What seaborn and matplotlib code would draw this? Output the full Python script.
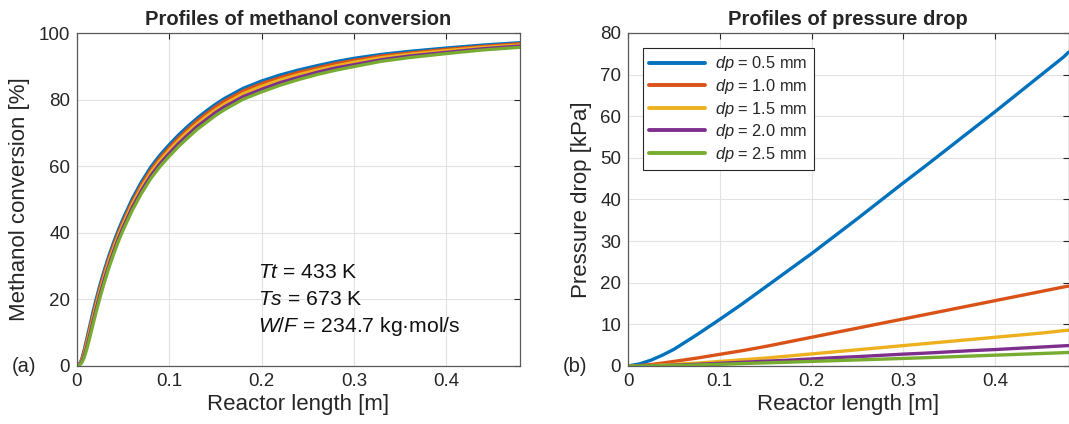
import numpy as np
import pandas as pd
import matplotlib
matplotlib.use("Agg")
import matplotlib.pyplot as plt
import seaborn as sns

# ---------------- data ----------------
dp_labels = ["0.5", "1.0", "1.5", "2.0", "2.5"]
colors = ["#0072BD", "#D95319", "#EDB120", "#7E2F8E", "#77AC30"]

# reactor length grid for conversion curves [m]
x_conv = [0, 0.0025, 0.005, 0.0075, 0.01, 0.0125, 0.015, 0.0175, 0.02, 0.025,
          0.03, 0.035, 0.04, 0.045, 0.05, 0.06, 0.07, 0.08, 0.09, 0.1,
          0.11, 0.12, 0.13, 0.14, 0.15, 0.16, 0.18, 0.2, 0.22, 0.24,
          0.26, 0.28, 0.3, 0.33, 0.36, 0.4, 0.44, 0.48]
conv_05 = [0, 0.5, 2.0, 4.5, 7.5, 10.5, 13.5, 16.5, 19.3, 24.5,
           29.2, 33.5, 37.4, 41.0, 44.3, 50.3, 55.4, 59.8, 63.4, 66.5,
           69.4, 72.0, 74.4, 76.6, 78.6, 80.4, 83.4, 85.6, 87.4, 88.9,
           90.2, 91.4, 92.4, 93.6, 94.5, 95.5, 96.4, 97.1]
conv_10 = [0, 0.4, 1.7, 4.0, 6.8, 9.6, 12.6, 15.5, 18.3, 23.5,
           28.3, 32.6, 36.5, 40.1, 43.4, 49.4, 54.5, 58.9, 62.5, 65.6,
           68.5, 71.1, 73.6, 75.7, 77.8, 79.6, 82.6, 84.8, 86.6, 88.2,
           89.5, 90.8, 91.8, 93.1, 94.0, 95.1, 96.0, 96.8]
conv_15 = [0, 0.35, 1.45, 3.4, 6.0, 8.8, 11.7, 14.6, 17.4, 22.6,
           27.3, 31.7, 35.6, 39.3, 42.6, 48.6, 53.7, 58.1, 61.7, 64.8,
           67.7, 70.3, 72.7, 74.9, 76.9, 78.7, 81.8, 84.0, 85.9, 87.5,
           88.9, 90.1, 91.2, 92.6, 93.6, 94.7, 95.7, 96.4]
conv_20 = [0, 0.3, 1.2, 2.9, 5.2, 7.9, 10.7, 13.6, 16.4, 21.6,
           26.4, 30.7, 34.7, 38.4, 41.7, 47.7, 52.8, 57.2, 60.8, 63.9,
           66.8, 69.4, 71.9, 74.0, 76.1, 77.9, 80.9, 83.1, 85.1, 86.7,
           88.2, 89.5, 90.5, 92.0, 93.1, 94.2, 95.3, 96.1]
conv_25 = [0, 0.2, 0.9, 2.3, 4.5, 7.0, 9.8, 12.6, 15.4, 20.6,
           25.4, 29.8, 33.8, 37.5, 40.8, 46.8, 51.9, 56.3, 59.9, 63.0,
           65.9, 68.5, 71.0, 73.1, 75.2, 77.0, 80.1, 82.3, 84.3, 86.0,
           87.5, 88.8, 89.9, 91.5, 92.6, 93.8, 94.9, 95.7]

# reactor length grid for pressure drop curves [m]
x_dp = [0, 0.0125, 0.025, 0.0375, 0.05, 0.075, 0.1, 0.125, 0.15, 0.175,
        0.2, 0.225, 0.25, 0.275, 0.3, 0.325, 0.35, 0.375, 0.4, 0.425,
        0.45, 0.475, 0.48]
dp_05 = [0, 0.5, 1.4, 2.6, 4.0, 7.5, 11.2, 15.0, 19.0, 23.0,
         27.0, 31.2, 35.4, 39.7, 44.0, 48.2, 52.5, 56.8, 61.1, 65.5,
         69.9, 74.3, 75.4]
dp_10 = [0, 0.1, 0.35, 0.7, 1.1, 1.9, 2.8, 3.7, 4.7, 5.8,
         6.9, 8.0, 9.1, 10.2, 11.3, 12.4, 13.5, 14.6, 15.7, 16.8,
         17.9, 19.0, 19.2]
dp_15 = [0, 0.03, 0.1, 0.25, 0.4, 0.7, 1.1, 1.5, 1.9, 2.4,
         2.9, 3.4, 3.9, 4.4, 4.9, 5.4, 5.9, 6.4, 6.9, 7.4,
         7.9, 8.5, 8.6]
dp_20 = [0, 0.02, 0.06, 0.12, 0.2, 0.4, 0.65, 0.9, 1.15, 1.4,
         1.7, 2.0, 2.25, 2.55, 2.85, 3.1, 3.4, 3.7, 3.95, 4.25,
         4.55, 4.85, 4.9]
dp_25 = [0, 0.01, 0.04, 0.08, 0.13, 0.25, 0.4, 0.58, 0.75, 0.92,
         1.1, 1.28, 1.46, 1.64, 1.82, 2.0, 2.2, 2.4, 2.6, 2.8,
         3.0, 3.2, 3.25]

conv_series = [conv_05, conv_10, conv_15, conv_20, conv_25]
dp_series = [dp_05, dp_10, dp_15, dp_20, dp_25]

names = [r"$\it{dp}$ = " + d + " mm" for d in dp_labels]

df_conv = pd.concat([pd.DataFrame({"x": x_conv, "y": s, "dp": n})
                     for s, n in zip(conv_series, names)], ignore_index=True)
df_dp = pd.concat([pd.DataFrame({"x": x_dp, "y": s, "dp": n})
                   for s, n in zip(dp_series, names)], ignore_index=True)

# ---------------- style ----------------
sns.set_style("white")
plt.rcParams["font.family"] = ["Liberation Sans", "DejaVu Sans"]
plt.rcParams["mathtext.fontset"] = "custom"
plt.rcParams["mathtext.rm"] = "Liberation Sans"
plt.rcParams["mathtext.it"] = "Liberation Sans:italic"
plt.rcParams["mathtext.bf"] = "Liberation Sans:bold"

W, H = 1069, 424
fig = plt.figure(figsize=(W / 100, H / 100), dpi=100)
axL = fig.add_axes([77 / W, 1 - 366 / H, (520 - 77) / W, (366 - 33) / H])
axR = fig.add_axes([628 / W, 1 - 366 / H, (1068.5 - 628) / W, (366 - 33) / H])

pal = dict(zip(names, colors))
sns.lineplot(data=df_conv, x="x", y="y", hue="dp", palette=pal, ax=axL,
             estimator=None, sort=False, linewidth=2.3, legend=False)
sns.lineplot(data=df_dp, x="x", y="y", hue="dp", palette=pal, ax=axR,
             estimator=None, sort=False, linewidth=2.4, legend=True)

tick_col = "#262626"
for ax in (axL, axR):
    ax.set_xlim(0, 0.48)
    ax.set_xticks([0, 0.1, 0.2, 0.3, 0.4])
    ax.set_xticklabels(["0", "0.1", "0.2", "0.3", "0.4"])
    ax.grid(True, color="#e2e2e2", linewidth=0.8)
    ax.set_axisbelow(True)
    ax.tick_params(direction="in", top=True, right=True, length=4, width=0.8,
                   colors=tick_col, labelsize=13.5, pad=5)
    for sp in ax.spines.values():
        sp.set_color("#5a5a5a")
        sp.set_linewidth(0.9)
    ax.set_xlabel("Reactor length [m]", fontsize=16, color=tick_col, labelpad=3)

axL.set_ylim(0, 100)
axL.set_yticks([0, 20, 40, 60, 80, 100])
axL.set_ylabel("Methanol conversion [%]", fontsize=16, color=tick_col, labelpad=6)
axL.set_title("Profiles of methanol conversion", fontsize=14.5, fontweight="bold",
              pad=6)

axR.set_ylim(0, 80)
axR.set_yticks(list(range(0, 81, 10)))
axR.set_ylabel("Pressure drop [kPa]", fontsize=16, color=tick_col, labelpad=6)
axR.set_title("Profiles of pressure drop", fontsize=14.5, fontweight="bold", pad=6)

# annotation
axL.text(0.196, 28.2, r"$\it{Tt}$ = 433 K", fontsize=15.2, va="center", color="#111111")
axL.text(0.196, 20.1, r"$\it{Ts}$ = 673 K", fontsize=15.2, va="center", color="#111111")
axL.text(0.196, 12.0, r"$\it{W/F}$ = 234.7 kg·mol/s", fontsize=15.2, va="center",
         color="#111111")

# legend
h, l = axR.get_legend_handles_labels()
leg = axR.legend(h, l, loc="upper left", fontsize=11.8, frameon=True,
                 fancybox=False, edgecolor="#262626", framealpha=1,
                 borderaxespad=0.9, handlelength=3.4, handletextpad=0.6,
                 labelspacing=0.22, borderpad=0.4)
leg.get_frame().set_linewidth(0.8)
for line in leg.get_lines():
    line.set_linewidth(2.8)

fig.text(24 / W, 1 - 367 / H, "(a)", fontsize=14.5, ha="center", va="center")
fig.text(575 / W, 1 - 367 / H, "(b)", fontsize=14.5, ha="center", va="center")

fig.savefig("out.png", dpi=100)
